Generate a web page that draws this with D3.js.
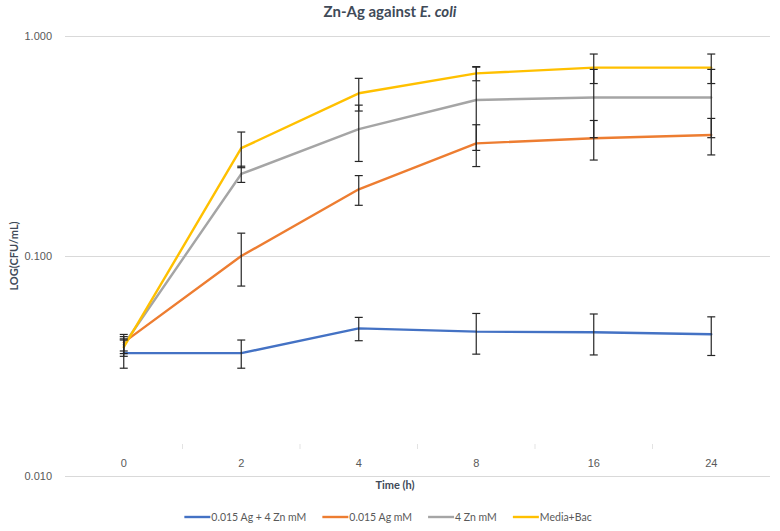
<!DOCTYPE html>
<html>
<head>
<meta charset="utf-8">
<script src="https://cdn.jsdelivr.net/npm/d3@7"></script>
<style>
  html, body { margin: 0; padding: 0; background: #fff; }
  svg { display: block; font-family: Lato, "Open Sans", sans-serif; }
</style>
</head>
<body>
<svg id="chart" width="780" height="531"></svg>
<script>
// ---- data ----
const categories = ["0", "2", "4", "8", "16", "24"];
const seriesNames = ["0.015 Ag + 4 Zn mM", "0.015 Ag mM", "4 Zn mM", "Media+Bac"];
const seriesColors = ["#4472c4", "#ed7d31", "#a5a5a5", "#ffc000"];
const agZnValues   = [0.0362, 0.0362, 0.0469, 0.0453, 0.0450, 0.0441];
const agZnErrors   = [0.0053, 0.0053, 0.0057, 0.0095, 0.0095, 0.0088];
const agValues     = [0.0405, 0.100, 0.201, 0.325, 0.343, 0.355];
const agErrors     = [0.0035, 0.027, 0.031, 0.070, 0.070, 0.067];
const znValues     = [0.0395, 0.236, 0.377, 0.512, 0.525, 0.525];
const znErrors     = [0.0035, 0.020, 0.108, 0.210, 0.180, 0.180];
const mediaValues  = [0.0385, 0.309, 0.549, 0.676, 0.718, 0.718];
const mediaErrors  = [0.0035, 0.057, 0.093, 0.050, 0.110, 0.110];
const yTicks = [0.01, 0.1, 1];
const titleMain = "Zn-Ag against ";
const titleItalic = "E. coli";
const xTitle = "Time (h)";
const yTitle = "LOG(CFU/mL)";

const series = [
  { name: seriesNames[0], color: seriesColors[0], values: agZnValues, errors: agZnErrors },
  { name: seriesNames[1], color: seriesColors[1], values: agValues, errors: agErrors },
  { name: seriesNames[2], color: seriesColors[2], values: znValues, errors: znErrors },
  { name: seriesNames[3], color: seriesColors[3], values: mediaValues, errors: mediaErrors }
];

// ---- layout ----
const svg = d3.select("#chart");
const plot = { left: 65, right: 770, top: 36, bottom: 476 };
const axisY = 449;

const x = d3.scaleBand().domain(categories).range([plot.left, plot.right]).padding(0);
const y = d3.scaleLog().domain([0.01, 1]).range([plot.bottom, plot.top]);
const cx = c => x(c) + x.bandwidth() / 2;

// gridlines + y labels
const yAxis = d3.axisLeft(y).tickValues(yTicks).tickFormat(d3.format(".3f"))
  .tickSizeInner(-(plot.right - plot.left)).tickSizeOuter(0).tickPadding(13);
const gy = svg.append("g").attr("transform", `translate(${plot.left},0)`).call(yAxis);
gy.select(".domain").remove();
gy.selectAll(".tick line").attr("stroke", "#d9d9d9").attr("stroke-width", 1);
gy.selectAll(".tick text").attr("fill", "#595959").style("font-size", "11px");

// x axis (labels + boundary ticks)
const xAxis = d3.axisBottom(x).tickSize(0).tickPadding(10);
const gx = svg.append("g").attr("transform", `translate(0,${axisY})`).call(xAxis);
gx.select(".domain").remove();
gx.selectAll(".tick text").attr("fill", "#595959").style("font-size", "11px");
const boundaries = categories.slice(1).map(c => x(c));
svg.append("g").selectAll("line").data(boundaries).join("line")
  .attr("x1", d => d).attr("x2", d => d)
  .attr("y1", axisY - 5).attr("y2", axisY)
  .attr("stroke", "#e3e3e3").attr("stroke-width", 1);

// lines
const line = d3.line().x((d, i) => cx(categories[i])).y(d => y(d));
svg.append("g").selectAll("path").data(series).join("path")
  .attr("d", s => line(s.values))
  .attr("fill", "none")
  .attr("stroke", s => s.color)
  .attr("stroke-width", 2.4)
  .attr("stroke-linejoin", "round")
  .attr("stroke-linecap", "round");

// error bars
const capW = 4;
const eg = svg.append("g").attr("stroke", "#262626").attr("stroke-width", 1.2);
series.forEach(s => {
  s.values.forEach((v, i) => {
    const xc = cx(categories[i]);
    const hi = y(v + s.errors[i]);
    const lo = y(v - s.errors[i]);
    eg.append("line").attr("x1", xc).attr("x2", xc).attr("y1", hi).attr("y2", lo);
    eg.append("line").attr("x1", xc - capW).attr("x2", xc + capW).attr("y1", hi).attr("y2", hi);
    eg.append("line").attr("x1", xc - capW).attr("x2", xc + capW).attr("y1", lo).attr("y2", lo);
  });
});

// title
const title = svg.append("text").attr("x", 390).attr("y", 17)
  .attr("text-anchor", "middle").attr("fill", "#404a58")
  .style("font-size", "15px").style("font-weight", "bold");
title.append("tspan").text(titleMain);
title.append("tspan").style("font-style", "italic").text(titleItalic);

// axis titles
svg.append("text").attr("x", 395).attr("y", 489).attr("text-anchor", "middle")
  .attr("fill", "#404a58").style("font-size", "11px").style("font-weight", "bold").text(xTitle);
svg.append("text").attr("transform", "translate(18,256) rotate(-90)").attr("text-anchor", "middle")
  .attr("fill", "#404a58").style("font-size", "11px").style("font-weight", "bold").text(yTitle);

// legend
const legendItems = series.map(s => ({ name: s.name, color: s.color }));
const lg = svg.append("g");
let lx = 0;
const gap = 16;
legendItems.forEach(it => {
  const g = lg.append("g").attr("transform", `translate(${lx},0)`);
  g.append("line").attr("x1", 0).attr("x2", 26).attr("y1", 0).attr("y2", 0)
    .attr("stroke", it.color).attr("stroke-width", 2.4);
  const t = g.append("text").attr("x", 27).attr("y", 4).attr("fill", "#595959")
    .style("font-size", "10.5px").text(it.name);
  const w = t.node().getComputedTextLength();
  lx += 27 + w + gap;
});
const totalW = lx - gap;
lg.attr("transform", `translate(${388 - totalW / 2},517)`);
</script>
</body>
</html>
